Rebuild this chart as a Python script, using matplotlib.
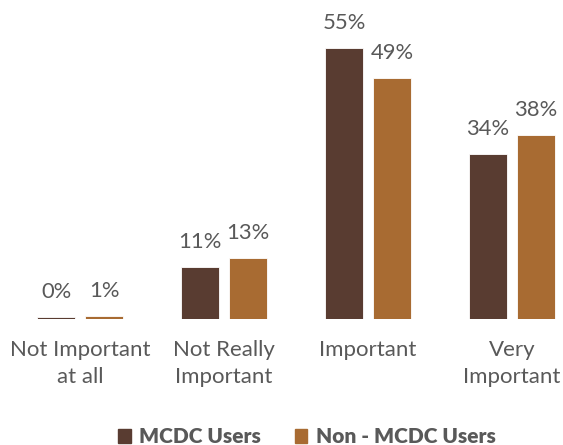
import matplotlib
matplotlib.use("Agg")
import matplotlib.pyplot as plt
import numpy as np
from matplotlib.patches import Patch

categories = ["Not Important\nat all", "Not Really\nImportant", "Important", "Very\nImportant"]
mcdc_users = [0.4, 10.6, 55.0, 33.5]
non_mcdc_users = [0.7, 12.4, 48.9, 37.3]
mcdc_labels = ["0%", "11%", "55%", "34%"]
non_mcdc_labels = ["1%", "13%", "49%", "38%"]
series_names = ["MCDC Users", "Non - MCDC Users"]

c_dark = "#593c31"
c_orange = "#a86b32"
txt = "#595959"
font = ["Lato", "DejaVu Sans"]

fig = plt.figure(figsize=(5.63, 4.45), dpi=100)
ax = fig.add_axes([0, 0.2831, 1, 0.7169])
x = np.arange(len(categories))
w = 0.265
off = 0.167
b1 = ax.bar(x - off, mcdc_users, w, color=c_dark, edgecolor="white", linewidth=0.6)
b2 = ax.bar(x + off, non_mcdc_users, w, color=c_orange, edgecolor="white", linewidth=0.6)

for bars, labs in ((b1, mcdc_labels), (b2, non_mcdc_labels)):
    for r, lab in zip(bars, labs):
        ax.annotate(lab, (r.get_x() + r.get_width() / 2, r.get_height()),
                    xytext=(0, 15), textcoords="offset pixels",
                    ha="center", va="bottom", fontsize=15.8, color=txt, family=font)

ax.set_xlim(-0.556, 3.354)
ax.set_ylim(0, 64.7)
ax.set_xticks(x)
ax.set_xticklabels(categories, fontsize=16, color=txt, family=font, linespacing=1.45)
ax.tick_params(axis="x", length=0, pad=15)
ax.set_yticks([])
for s in ax.spines.values():
    s.set_visible(False)

handles = [Patch(color=c_dark), Patch(color=c_orange)]
leg = fig.legend(handles, series_names, loc="center", bbox_to_anchor=(0.545, 0.018),
                 ncol=2, frameon=False, handlelength=0.62, handleheight=0.62,
                 handletextpad=0.4, columnspacing=1.6,
                 prop={"family": font, "weight": "heavy", "size": 15})
for t in leg.get_texts():
    t.set_color(txt)

fig.savefig("out.png", dpi=100)
